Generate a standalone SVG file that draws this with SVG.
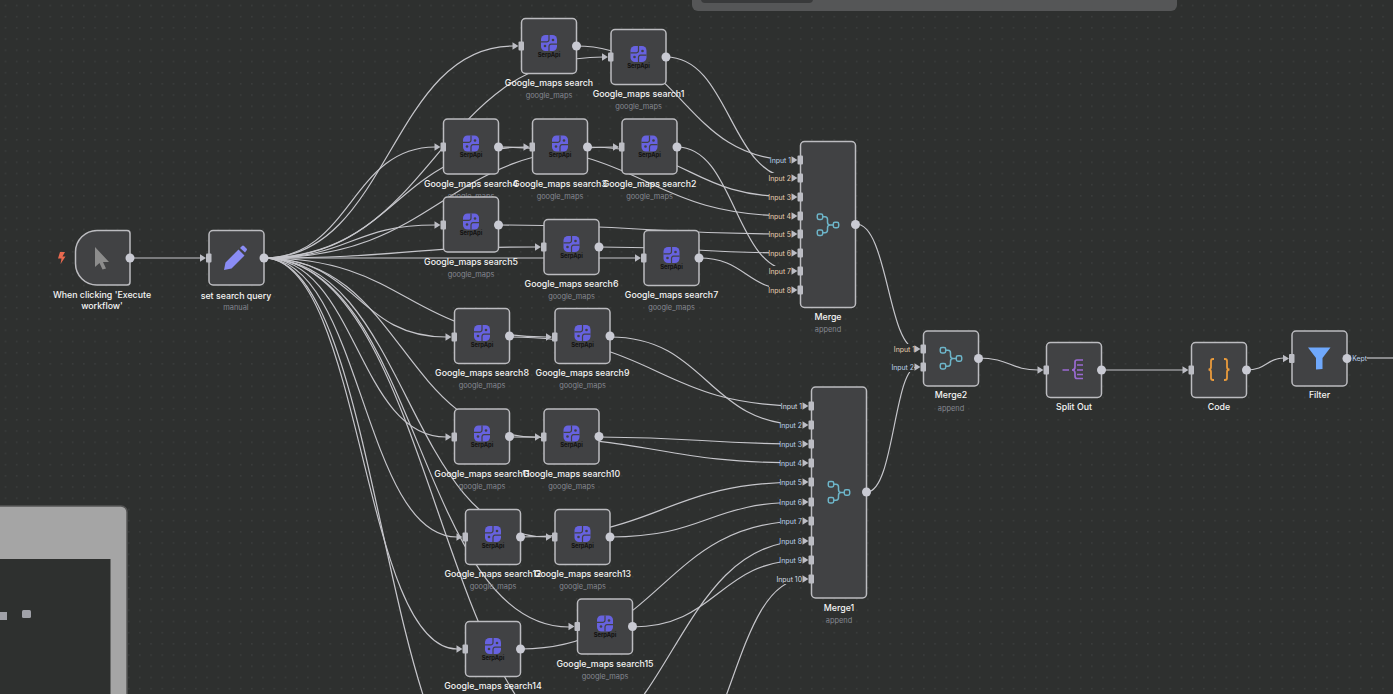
<svg xmlns="http://www.w3.org/2000/svg" width="1393" height="694" viewBox="0 0 1393 694">
<style>
.n{fill:#414244;stroke:#bcbcc0;stroke-width:1.5}
.e{fill:none;stroke:#c6c6cb;stroke-width:1.2}
.t{font-family:Inter,"Liberation Sans",sans-serif;font-size:8.8px;font-weight:500;fill:#f4f4f4;text-anchor:middle}
.s{font-family:Inter,"Liberation Sans",sans-serif;font-size:7.4px;fill:#84878f;text-anchor:middle}
.a{font-family:Inter,"Liberation Sans",sans-serif;font-size:6.9px;text-anchor:end}
.o{fill:#e9cfb0}.b{fill:#bcd2ec}.w{fill:#d6dce2}
.api{font-family:Inter,"Liberation Sans",sans-serif;font-size:5.800px;font-weight:700;fill:#111;text-anchor:middle}
.out{fill:#c9cad3}
.lb{fill:#2e302f}
</style>
<defs>
<pattern id="dots" width="11.2" height="11.2" patternUnits="userSpaceOnUse"><rect x="5" y="5" width="1" height="1" fill="#4c4e4e"/></pattern>
<g id="p" fill="#bcbdc4"><path d="M-9-3.800-3 0-9 3.800z"/><rect x="-3" y="-4.500" width="5.500" height="9" rx="1"/></g>
<g id="serp"><rect x="-8" y="-8" width="16" height="16" rx="4.500" fill="#6762df"/><path d="M-8-1.200H-2Q0-1.200 0-3.500V-8M8 1.200H2Q0 1.200 0 3.500V8" fill="none" stroke="#414244" stroke-width="1.200"/><circle cx="-4" cy="3" r="1.300" fill="#414244"/><circle cx="4" cy="-3" r="1.300" fill="#414244"/></g>
<g id="mi" fill="none" stroke="#6db5c9" stroke-width="1.500"><rect x="-10.700" y="-11" width="5.400" height="5.400" rx="1.600"/><rect x="-10.700" y="5" width="5.400" height="5.400" rx="1.600"/><rect x="5.300" y="-2.700" width="5.400" height="5.400" rx="1.600"/><path d="M-5.300-8.300H-3Q-.5-8.300-.5-5.500V-3Q-.5 0 2 0H5.300M-5.300 7.700H-3Q-.5 7.700-.5 5V3Q-.5 0 2 0"/></g>
</defs>
<rect width="1393" height="694" fill="#2e302f"/>
<rect width="1393" height="694" fill="url(#dots)"/>
<g id="panels">
<rect x="692" y="-10" width="485" height="21" rx="6" fill="#555657"/>
<rect x="701" y="-10" width="112" height="13" rx="4" fill="#393a3b"/>
<rect x="-12" y="506" width="139" height="200" rx="6" fill="#a5a5a5" stroke="#555" stroke-width="1.500"/>
<rect x="-1" y="559" width="111.500" height="136" fill="#2e302f"/>
<rect x="-1" y="612" width="8" height="8" fill="#a0a1a8"/>
<rect x="22" y="610" width="9" height="8" rx="1.500" fill="#a0a1a8"/>
</g>
<g id="connectors">
<path class="e" d="M130 258H201"/>
<path class="e" d="M264 258C390 258 390 46 513 46"/>
<path class="e" d="M264 258C435 258 435 57 603 57"/>
<path class="e" d="M264 258C351 258 351 147 435 147"/>
<path class="e" d="M264 258C396 258 396 147 525 147"/>
<path class="e" d="M264 258C441 258 441 147 614 147"/>
<path class="e" d="M264 258C351 258 351 225 435 225"/>
<path class="e" d="M264 258C402 258 402 247 536 247"/>
<path class="e" d="M264 258H636"/>
<path class="e" d="M264 258C357 258 357 337 446 337"/>
<path class="e" d="M264 258C407 258 407 337 547 337"/>
<path class="e" d="M264 258C357 258 357 437 446 437"/>
<path class="e" d="M264 258C402 258 402 437 536 437"/>
<path class="e" d="M264 258C362 258 362 537 457 537"/>
<path class="e" d="M264 258C407 258 407 537 547 537"/>
<path class="e" d="M264 258C362 258 362 649 457 649"/>
<path class="e" d="M264 258C418 258 418 627 569 627"/>
<path class="e" d="M264 258C437 258 437 760 610 760"/>
<path class="e" d="M264 258C382 258 382 800 500 800"/>
<path class="e" d="M576 46C684 46 684 160 793 160"/>
<path class="e" d="M666 57C730 57 730 178 793 178"/>
<path class="e" d="M588 147C690 147 690 197 793 197"/>
<path class="e" d="M499 147C646 147 646 216 793 216"/>
<path class="e" d="M499 225C646 225 646 234 793 234"/>
<path class="e" d="M599 247C696 247 696 253 793 253"/>
<path class="e" d="M677 147C735 147 735 271 793 271"/>
<path class="e" d="M699 258C746 258 746 290 793 290"/>
<path class="e" d="M510 337C657 337 657 406 804 406"/>
<path class="e" d="M610 337C707 337 707 425 804 425"/>
<path class="e" d="M599 437C702 437 702 444 804 444"/>
<path class="e" d="M510 437C657 437 657 463 804 463"/>
<path class="e" d="M521 537C662 537 662 482 804 482"/>
<path class="e" d="M610 537C707 537 707 502 804 502"/>
<path class="e" d="M521 649C662 649 662 521 804 521"/>
<path class="e" d="M540 760C672 760 672 541 804 541"/>
<path class="e" d="M632 627C718 627 718 560 804 560"/>
<path class="e" d="M660 780C732 780 732 579 804 579"/>
<path class="e" d="M856 224C888 224 888 349 917 349"/>
<path class="e" d="M867 492C894 492 894 367 917 367"/>
<path class="e" d="M978 358C1010 358 1010 370 1038 370"/>
<path class="e" d="M1101 370H1183"/>
<path class="e" d="M1246 370C1267 370 1267 358 1284 358"/>
<path class="e" d="M1367 358H1393"/>
</g>
<g id="trigger"><path class="n" d="M97 230.500H127Q130 230.500 130 233.500V282Q130 285 127 285H97A21.500 21.500 0 0 1 75.500 263.500V252A21.500 21.500 0 0 1 97 230.500Z"/><path d="M60 252H65L62.500 256.500H65.500L60.500 264 61.500 258.500H58Z" fill="#e8694f"/><path d="M95 247 109 262H103L106 268.500 102.500 269.500 99.500 263 95 267Z" fill="#8c8c8c"/><circle class="out" cx="130" cy="258" r="4.500"/><text class="t" x="102" y="298">When clicking 'Execute</text><text class="t" x="102" y="309">workflow'</text></g>
<g id="set"><rect class="n" x="209" y="230.500" width="55" height="54.500" rx="4"/><use href="#p" x="209" y="258"/><path d="M225.500 268.500 227 261 240 248 246 254 233 267ZM241.500 246.500 243.500 244.500Q244.500 243.500 245.500 244.500L248 247Q249 248 248 249L246.500 251Z" fill="#8a8cf5" transform="translate(-1.500 1.500)"/><circle class="out" cx="264" cy="258" r="4.500"/><text class="t" x="236" y="299">set search query</text><text class="s" x="236" y="310">manual</text></g>
<g id="search"><rect class="n" x="521.500" y="18.500" width="55" height="55" rx="4"/><use href="#p" x="521.500" y="46"/><use href="#serp" x="549" y="43"/><text class="api" x="549" y="56.500">SerpApi</text><circle class="out" cx="576.500" cy="46" r="4.500"/><text class="t" x="549" y="86">Google_maps search</text><text class="s" x="549" y="98">google_maps</text></g>
<g id="search1"><rect class="n" x="611" y="29.500" width="55" height="55" rx="4"/><use href="#p" x="611" y="57"/><use href="#serp" x="638.500" y="54"/><text class="api" x="638.500" y="67.500">SerpApi</text><circle class="out" cx="666" cy="57" r="4.500"/><text class="t" x="638.500" y="97">Google_maps search1</text><text class="s" x="638.500" y="109">google_maps</text></g>
<g id="search4"><rect class="n" x="443.500" y="119" width="55" height="55" rx="4"/><use href="#p" x="443.500" y="147"/><use href="#serp" x="471" y="143.500"/><text class="api" x="471" y="157">SerpApi</text><circle class="out" cx="498.500" cy="147" r="4.500"/><text class="t" x="471" y="186.500">Google_maps search4</text><text class="s" x="471" y="198.500">google_maps</text></g>
<g id="search3"><rect class="n" x="532.500" y="119" width="55" height="55" rx="4"/><use href="#p" x="532.500" y="147"/><use href="#serp" x="560" y="143.500"/><text class="api" x="560" y="157">SerpApi</text><circle class="out" cx="587.500" cy="147" r="4.500"/><text class="t" x="560" y="186.500">Google_maps search3</text><text class="s" x="560" y="198.500">google_maps</text></g>
<g id="search2"><rect class="n" x="622" y="119" width="55" height="55" rx="4"/><use href="#p" x="622" y="147"/><use href="#serp" x="649.500" y="143.500"/><text class="api" x="649.500" y="157">SerpApi</text><circle class="out" cx="677" cy="147" r="4.500"/><text class="t" x="649.500" y="186.500">Google_maps search2</text><text class="s" x="649.500" y="198.500">google_maps</text></g>
<g id="search5"><rect class="n" x="443.500" y="197" width="55" height="55" rx="4"/><use href="#p" x="443.500" y="225"/><use href="#serp" x="471" y="221.500"/><text class="api" x="471" y="235">SerpApi</text><circle class="out" cx="498.500" cy="225" r="4.500"/><text class="t" x="471" y="264.500">Google_maps search5</text><text class="s" x="471" y="276.500">google_maps</text></g>
<g id="search6"><rect class="n" x="544" y="219.500" width="55" height="55" rx="4"/><use href="#p" x="544" y="247"/><use href="#serp" x="571.500" y="244"/><text class="api" x="571.500" y="257.500">SerpApi</text><circle class="out" cx="599" cy="247" r="4.500"/><text class="t" x="571.500" y="287">Google_maps search6</text><text class="s" x="571.500" y="299">google_maps</text></g>
<g id="search7"><rect class="n" x="644" y="230.500" width="55" height="55" rx="4"/><use href="#p" x="644" y="258"/><use href="#serp" x="671.500" y="255"/><text class="api" x="671.500" y="268.500">SerpApi</text><circle class="out" cx="699" cy="258" r="4.500"/><text class="t" x="671.500" y="298">Google_maps search7</text><text class="s" x="671.500" y="310">google_maps</text></g>
<g id="search8"><rect class="n" x="454.500" y="308.500" width="55" height="55" rx="4"/><use href="#p" x="454.500" y="337"/><use href="#serp" x="482" y="333"/><text class="api" x="482" y="346.500">SerpApi</text><circle class="out" cx="509.500" cy="336" r="4.500"/><text class="t" x="482" y="376">Google_maps search8</text><text class="s" x="482" y="388">google_maps</text></g>
<g id="search9"><rect class="n" x="555" y="308.500" width="55" height="55" rx="4"/><use href="#p" x="555" y="337"/><use href="#serp" x="582.500" y="333"/><text class="api" x="582.500" y="346.500">SerpApi</text><circle class="out" cx="610" cy="336" r="4.500"/><text class="t" x="582.500" y="376">Google_maps search9</text><text class="s" x="582.500" y="388">google_maps</text></g>
<g id="search11"><rect class="n" x="454.500" y="409" width="55" height="55" rx="4"/><use href="#p" x="454.500" y="437"/><use href="#serp" x="482" y="433.500"/><text class="api" x="482" y="447">SerpApi</text><circle class="out" cx="509.500" cy="436.500" r="4.500"/><text class="t" x="482" y="477">Google_maps search11</text><text class="s" x="482" y="488.500">google_maps</text></g>
<g id="search10"><rect class="n" x="544" y="409" width="55" height="55" rx="4"/><use href="#p" x="544" y="437"/><use href="#serp" x="571.500" y="433.500"/><text class="api" x="571.500" y="447">SerpApi</text><circle class="out" cx="599" cy="436.500" r="4.500"/><text class="t" x="571.500" y="477">Google_maps search10</text><text class="s" x="571.500" y="488.500">google_maps</text></g>
<g id="search12"><rect class="n" x="465.500" y="509.500" width="55" height="55" rx="4"/><use href="#p" x="465.500" y="537"/><use href="#serp" x="493" y="534"/><text class="api" x="493" y="547.500">SerpApi</text><circle class="out" cx="520.500" cy="537" r="4.500"/><text class="t" x="493" y="577">Google_maps search12</text><text class="s" x="493" y="589">google_maps</text></g>
<g id="search13"><rect class="n" x="555" y="509.500" width="55" height="55" rx="4"/><use href="#p" x="555" y="537"/><use href="#serp" x="582.500" y="534"/><text class="api" x="582.500" y="547.500">SerpApi</text><circle class="out" cx="610" cy="537" r="4.500"/><text class="t" x="582.500" y="577">Google_maps search13</text><text class="s" x="582.500" y="589">google_maps</text></g>
<g id="search14"><rect class="n" x="465.500" y="621.500" width="55" height="55" rx="4"/><use href="#p" x="465.500" y="649"/><use href="#serp" x="493" y="646"/><text class="api" x="493" y="659.500">SerpApi</text><circle class="out" cx="520.500" cy="649" r="4.500"/><text class="t" x="493" y="689">Google_maps search14</text></g>
<g id="search15"><rect class="n" x="577.500" y="599" width="55" height="55" rx="4"/><use href="#p" x="577.500" y="626.500"/><use href="#serp" x="605" y="623.500"/><text class="api" x="605" y="637">SerpApi</text><circle class="out" cx="632.500" cy="626.500" r="4.500"/><text class="t" x="605" y="666.500">Google_maps search15</text><text class="s" x="605" y="678.500">google_maps</text></g>
<g id="merge"><rect class="n" x="800.500" y="141.500" width="55" height="166" rx="4"/><use href="#mi" x="828" y="225"/><circle class="out" cx="855.500" cy="224.500" r="4.500"/>
<rect class="lb" x="770" y="155" width="22" height="10"/><rect class="lb" x="769" y="173" width="23" height="10"/><rect class="lb" x="769" y="192" width="23" height="10"/><rect class="lb" x="769" y="211" width="23" height="10"/><rect class="lb" x="769" y="229" width="23" height="10"/><rect class="lb" x="769" y="248" width="23" height="10"/><rect class="lb" x="769" y="266" width="23" height="10"/><rect class="lb" x="769" y="285" width="23" height="10"/>
<use href="#p" x="800.500" y="160"/><use href="#p" x="800.500" y="178"/><use href="#p" x="800.500" y="197"/><use href="#p" x="800.500" y="216"/><use href="#p" x="800.500" y="234"/><use href="#p" x="800.500" y="253"/><use href="#p" x="800.500" y="271"/><use href="#p" x="800.500" y="290"/>
<text class="a b" x="791" y="162.500">Input 1</text><text class="a o" x="791" y="180.500">Input 2</text><text class="a o" x="791" y="199.500">Input 3</text><text class="a o" x="791" y="218.500">Input 4</text><text class="a o" x="791" y="236.500">Input 5</text><text class="a o" x="791" y="255.500">Input 6</text><text class="a o" x="791" y="273.500">Input 7</text><text class="a o" x="791" y="292.500">Input 8</text>
<text class="t" x="828" y="320">Merge</text><text class="s" x="828" y="332">append</text></g>
<g id="merge1"><rect class="n" x="811.500" y="387" width="55" height="211" rx="4"/><use href="#mi" x="839" y="492.500"/><circle class="out" cx="866.500" cy="492" r="4.500"/>
<rect class="lb" x="781" y="401" width="22" height="10"/><rect class="lb" x="780" y="420" width="23" height="10"/><rect class="lb" x="780" y="439" width="23" height="10"/><rect class="lb" x="780" y="458" width="23" height="10"/><rect class="lb" x="780" y="477" width="23" height="10"/><rect class="lb" x="780" y="497" width="23" height="10"/><rect class="lb" x="780" y="516" width="23" height="10"/><rect class="lb" x="780" y="536" width="23" height="10"/><rect class="lb" x="780" y="555" width="23" height="10"/><rect class="lb" x="777" y="574" width="26" height="10"/>
<use href="#p" x="811.500" y="406"/><use href="#p" x="811.500" y="425"/><use href="#p" x="811.500" y="444"/><use href="#p" x="811.500" y="463"/><use href="#p" x="811.500" y="482"/><use href="#p" x="811.500" y="502"/><use href="#p" x="811.500" y="521"/><use href="#p" x="811.500" y="541"/><use href="#p" x="811.500" y="560"/><use href="#p" x="811.500" y="579"/>
<text class="a w" x="802" y="408.500">Input 1</text><text class="a b" x="802" y="427.500">Input 2</text><text class="a b" x="802" y="446.500">Input 3</text><text class="a b" x="802" y="465.500">Input 4</text><text class="a b" x="802" y="484.500">Input 5</text><text class="a b" x="802" y="504.500">Input 6</text><text class="a b" x="802" y="523.500">Input 7</text><text class="a b" x="802" y="543.500">Input 8</text><text class="a b" x="802" y="562.500">Input 9</text><text class="a w" x="802" y="581.500">Input 10</text>
<text class="t" x="839" y="611">Merge1</text><text class="s" x="839" y="622.500">append</text></g>
<g id="merge2"><rect class="n" x="923.500" y="331" width="55" height="55" rx="4"/><use href="#mi" x="951" y="358.500"/><circle class="out" cx="978.500" cy="358.500" r="4.500"/>
<rect class="lb" x="893" y="344" width="22" height="10"/><rect class="lb" x="891" y="362" width="23" height="10"/>
<use href="#p" x="923.500" y="349"/><use href="#p" x="923.500" y="367"/>
<text class="a o" x="915" y="351.500">Input 1</text><text class="a b" x="914" y="369.500">Input 2</text>
<text class="t" x="951" y="398">Merge2</text><text class="s" x="951" y="410.500">append</text></g>
<g id="splitout"><rect class="n" x="1046.500" y="342.500" width="55" height="55" rx="4"/><use href="#p" x="1046.500" y="370"/><path d="M1062.500 370H1069M1083 360H1077Q1075 360 1075 362V367Q1075 370 1072 370Q1075 370 1075 373V376Q1075 378.500 1077 378.500H1083M1077 365H1083M1077 370H1083M1077 374.500H1083" fill="none" stroke="#9a6ad2" stroke-width="1.700"/><circle class="out" cx="1101.500" cy="370" r="4.500"/><text class="t" x="1074" y="410">Split Out</text></g>
<g id="code"><rect class="n" x="1191.500" y="342.500" width="55" height="55" rx="4"/><use href="#p" x="1191.500" y="370"/><path d="M1214 359H1213Q1211 359 1211 361V367Q1211 369.500 1208.500 369.500Q1211 369.500 1211 372V378Q1211 380 1213 380H1214M1224 359H1225Q1227 359 1227 361V367Q1227 369.500 1229.500 369.500Q1227 369.500 1227 372V378Q1227 380 1225 380H1224" fill="none" stroke="#e89a3c" stroke-width="1.800"/><circle class="out" cx="1246.500" cy="370" r="4.500"/><text class="t" x="1219" y="410">Code</text></g>
<g id="filter"><rect class="n" x="1292" y="331" width="55" height="55" rx="4"/><use href="#p" x="1292" y="358.500"/><path d="M1308 347.500H1330.500L1322.500 358V369L1316 369.500V358Z" fill="#6fa8fc"/><circle class="out" cx="1347" cy="358.500" r="4.500"/><text class="a b" x="1367" y="361">Kept</text><text class="t" x="1319.500" y="398">Filter</text></g>
</svg>
